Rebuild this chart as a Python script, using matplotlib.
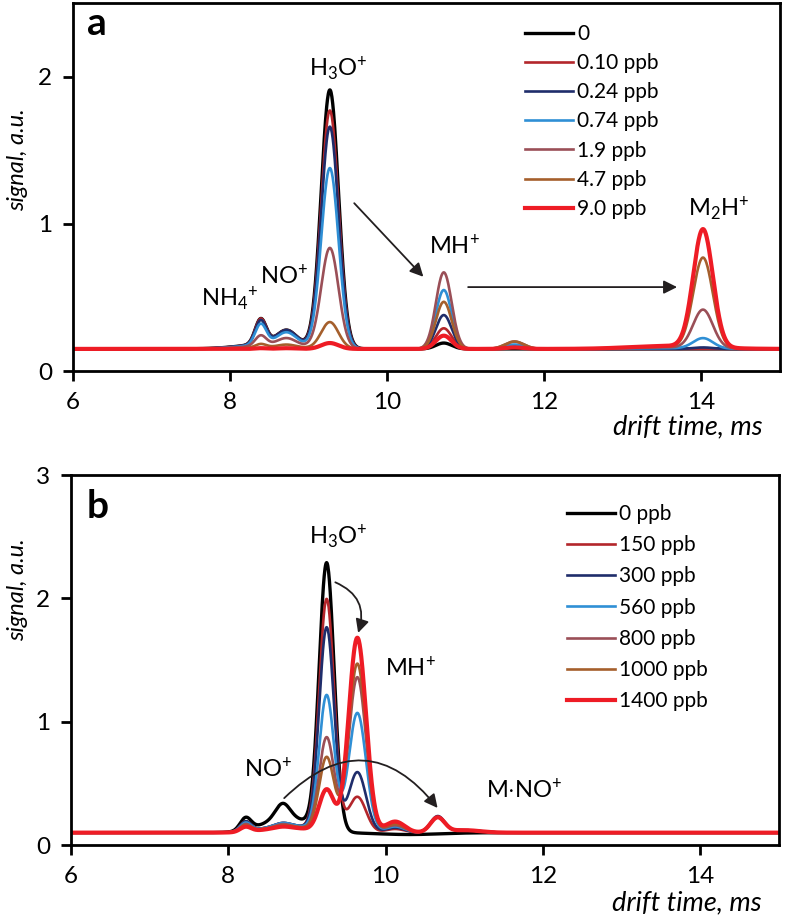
import numpy as np
import matplotlib
matplotlib.use("Agg")
import matplotlib.pyplot as plt

plt.rcParams['font.family'] = ['Lato', 'DejaVu Sans']
plt.rcParams['mathtext.fontset'] = 'custom'
plt.rcParams['mathtext.rm'] = 'Lato'
plt.rcParams['mathtext.it'] = 'Lato:italic'

# ---- panel a: low concentrations ----
labels_a = ['0', '0.10 ppb', '0.24 ppb', '0.74 ppb', '1.9 ppb', '4.7 ppb', '9.0 ppb']
colors_a = ['#000000', '#b3262b', '#1f2d6b', '#2f8fd5', '#9a4f57', '#a55f2c', '#ee1c25']
widths_a = [2.4, 1.9, 1.9, 1.9, 1.9, 1.9, 3.0]
base_a = 0.15
# peak centres (ms) and widths (ms)
centres_a = [8.60, 8.39, 8.72, 9.27, 10.72, 11.62, 14.02, 13.60]
sigmas_a = [0.40, 0.07, 0.12, 0.11, 0.10, 0.12, 0.125, 0.50]
# peak amplitudes above baseline for each series (columns follow centres_a)
broad_a = [0.04, 0.04, 0.04, 0.035, 0.025, 0.01, 0.0]
nh4_a = [0.17, 0.17, 0.16, 0.14, 0.07, 0.025, 0.005]
no_a = [0.09, 0.09, 0.09, 0.08, 0.05, 0.02, 0.005]
h3o_a = [1.75, 1.61, 1.50, 1.22, 0.68, 0.18, 0.04]
mh_a = [0.04, 0.14, 0.23, 0.40, 0.52, 0.32, 0.09]
p116_a = [0.0, 0.01, 0.02, 0.03, 0.05, 0.05, 0.01]
m2h_a = [0.0, 0.0, 0.01, 0.07, 0.26, 0.61, 0.80]
m2h_wing_a = [0.0, 0.0, 0.0, 0.005, 0.01, 0.015, 0.02]

# ---- panel b: high concentrations ----
labels_b = ['0 ppb', '150 ppb', '300 ppb', '560 ppb', '800 ppb', '1000 ppb', '1400 ppb']
colors_b = colors_a
widths_b = widths_a
base_b = 0.10
centres_b = [8.75, 8.22, 8.69, 9.25, 9.64, 10.12, 10.66, 11.00, 10.30]
sigmas_b = [0.30, 0.07, 0.09, 0.095, 0.11, 0.12, 0.09, 0.20, 0.40]
broad_b = [0.12, 0.06, 0.06, 0.06, 0.05, 0.05, 0.04]
p822_b = [0.10, 0.08, 0.08, 0.07, 0.06, 0.05, 0.04]
no_b = [0.12, 0.02, 0.02, 0.02, 0.02, 0.01, 0.01]
h3o_b = [2.16, 1.88, 1.65, 1.10, 0.76, 0.60, 0.34]
mh_b = [0.0, 0.29, 0.49, 0.97, 1.26, 1.37, 1.58]
sh_b = [0.0, 0.03, 0.04, 0.05, 0.06, 0.07, 0.09]
mno_b = [0.0, 0.12, 0.13, 0.12, 0.12, 0.12, 0.12]
tail_b = [0.0, 0.02, 0.02, 0.02, 0.02, 0.02, 0.02]
dip_b = [-0.015, 0.0, 0.0, 0.0, 0.0, 0.0, 0.0]

t = np.linspace(5.9, 15.1, 1800)


def spectrum(base, centres, sigmas, amps):
    y = np.full_like(t, base)
    for c, s, a in zip(centres, sigmas, amps):
        y = y + a * np.exp(-(t - c) ** 2 / (2 * s ** 2))
    return y


fig = plt.figure(figsize=(7.88, 9.16), dpi=100)
ax1 = fig.add_axes([73 / 788, 1 - 371 / 916, 707 / 788, 368 / 916])
ax2 = fig.add_axes([71 / 788, 1 - 845 / 916, 708 / 788, 370 / 916])

amps_a = list(zip(broad_a, nh4_a, no_a, h3o_a, mh_a, p116_a, m2h_a, m2h_wing_a))
for i, lab in enumerate(labels_a):
    ax1.plot(t, spectrum(base_a, centres_a, sigmas_a, amps_a[i]),
             color=colors_a[i], lw=widths_a[i], label=lab)

amps_b = list(zip(broad_b, p822_b, no_b, h3o_b, mh_b, sh_b, mno_b, tail_b, dip_b))
for i, lab in enumerate(labels_b):
    ax2.plot(t, spectrum(base_b, centres_b, sigmas_b, amps_b[i]),
             color=colors_b[i], lw=widths_b[i], label=lab)

for ax, ymax, yt in [(ax1, 2.5, [0, 1, 2]), (ax2, 3.0, [0, 1, 2, 3])]:
    ax.set_xlim(6, 15)
    ax.set_ylim(0, ymax)
    ax.set_xticks([6, 8, 10, 12, 14])
    ax.set_yticks(yt)
    ax.tick_params(labelsize=17.5, width=2, length=7, direction='out', pad=8)
    for sp in ax.spines.values():
        sp.set_linewidth(2)
    ax.set_xlabel('drift time, ms', style='italic', fontsize=19.5, ha='right', va='top')
    ax.set_ylabel('signal, a.u.', style='italic', fontsize=17)
ax1.xaxis.set_label_coords(0.975, -0.118)
ax2.xaxis.set_label_coords(0.976, -0.122)
ax1.yaxis.set_label_coords(-0.064, 0.573)
ax2.yaxis.set_label_coords(-0.061, 0.69)

leg_kw = dict(frameon=False, fontsize=15, handlelength=2.3, handletextpad=0.22,
              borderpad=0, borderaxespad=0)
ax1.legend(loc='upper left', bbox_to_anchor=(0.639, 0.943), labelspacing=0.44, **leg_kw)
ax2.legend(loc='upper left', bbox_to_anchor=(0.700, 0.922), labelspacing=0.54, **leg_kw)

# panel letters
ax1.text(0.020, 0.913, 'a', transform=ax1.transAxes, fontsize=28, fontweight='bold', va='baseline')
ax2.text(0.022, 0.884, 'b', transform=ax2.transAxes, fontsize=28, fontweight='bold', va='baseline')

# ion labels
lbl = dict(fontsize=17, ha='center', va='center')
ax1.text(9.37, 2.05, r'H$_3$O$^{+}$', **lbl)
ax1.text(8.68, 0.65, r'NO$^{+}$', **lbl)
ax1.text(8.00, 0.49, r'NH$_4$$^{+}$', **lbl)
ax1.text(10.85, 0.85, r'MH$^{+}$', **lbl)
ax1.text(14.22, 1.10, r'M$_2$H$^{+}$', **lbl)
ax2.text(9.39, 2.50, r'H$_3$O$^{+}$', **lbl)
ax2.text(8.50, 0.62, r'NO$^{+}$', **lbl)
ax2.text(10.32, 1.44, r'MH$^{+}$', **lbl)
ax2.text(11.76, 0.45, r'M$\cdot$NO$^{+}$', **lbl)

arr = dict(arrowstyle='-|>', color='#231f20', lw=1.3, mutation_scale=20, shrinkA=0, shrinkB=0)
ax1.annotate('', xy=(10.46, 0.64), xytext=(9.58, 1.14), arrowprops=arr)
ax1.annotate('', xy=(13.69, 0.57), xytext=(11.03, 0.57), arrowprops=arr)
ax2.annotate('', xy=(9.65, 1.72), xytext=(9.36, 2.13),
             arrowprops=dict(arr, connectionstyle='arc3,rad=-0.45'))
ax2.annotate('', xy=(10.66, 0.30), xytext=(8.71, 0.38),
             arrowprops=dict(arr, connectionstyle='arc3,rad=-0.55'))

fig.savefig('out.png', dpi=100)
